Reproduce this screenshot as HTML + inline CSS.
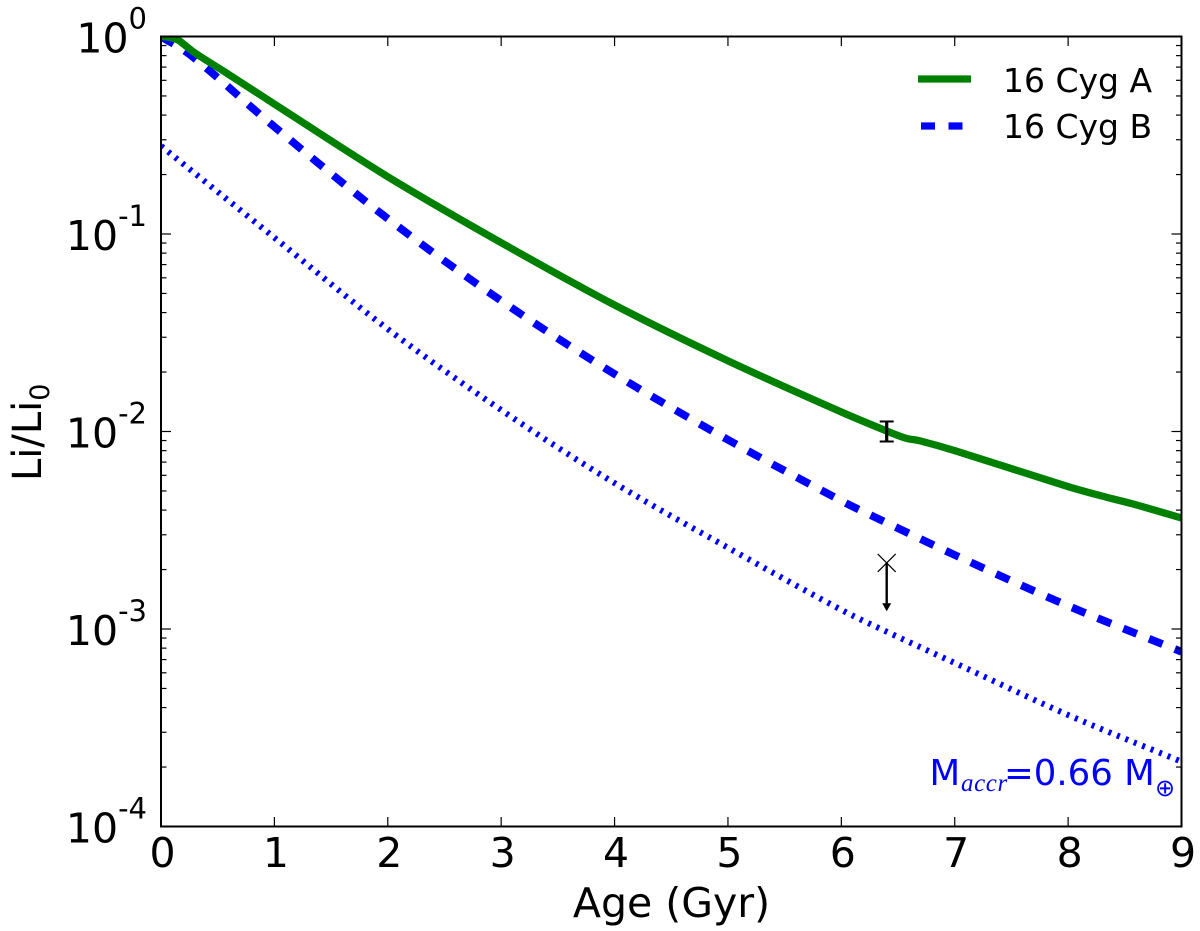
<!DOCTYPE html>
<html>
<head>
<meta charset="utf-8">
<title>Li depletion chart</title>
<style>
html,body{margin:0;padding:0;background:#fff;width:1200px;height:931px;overflow:hidden}
svg{display:block;font-family:"DejaVu Sans","Liberation Sans",sans-serif}
</style>
</head>
<body>
<svg id="chart" xmlns="http://www.w3.org/2000/svg" width="1200" height="931" viewBox="0 0 1200 931">
<rect width="1200" height="931" fill="#fff"/>
<defs><clipPath id="plot-clip"><rect x="161" y="36.5" width="1020.5" height="790"/></clipPath></defs>
<g id="series" clip-path="url(#plot-clip)"></g>
<g id="markers"></g>
<g id="ticks"></g>
<rect x="161" y="36.5" width="1020.5" height="790" fill="none" stroke="#000" stroke-width="2"/>
<g id="tick-labels" fill="#000"></g>
<text x="671.5" y="917" font-size="41" text-anchor="middle">Age (Gyr)</text>
<text transform="translate(41,481) rotate(-90)" font-size="40">Li/Li<tspan font-size="27" dy="8">0</tspan></text>
<g>
<line x1="918" x2="971" y1="79" y2="79" stroke="#008000" stroke-width="7.3"/>
<text x="1003" y="92" font-size="33">16 Cyg A</text>
<line x1="921" x2="963" y1="126" y2="126" stroke="#0000ff" stroke-width="7.3" stroke-dasharray="14 13.5"/>
<text x="1003" y="138" font-size="33">16 Cyg B</text>
</g>
<g fill="#0000ff">
<text x="929.5" y="785" font-size="35.5">M</text>
<text x="961" y="791" font-size="25" font-style="italic" font-family="'Liberation Serif',serif" letter-spacing="0.6">accr</text>
<text x="1004" y="785" font-size="35.5">=0.66 M</text>
<text x="1155" y="796" font-size="24">⊕</text>
</g>
</svg>
<script>
var ages = [0, 0.08, 0.15, 0.22, 0.3, 0.6, 1, 2, 3, 4, 5, 6, 6.4, 6.57, 6.69, 7, 8, 8.33, 8.57, 9];
var liCygA = [1.0, 0.988, 0.96, 0.895, 0.825, 0.641, 0.455, 0.195, 0.0904, 0.0437, 0.0228, 0.01255, 0.01006, 0.00924, 0.00898, 0.0080, 0.00526, 0.00466, 0.0043, 0.00365];
var agesB = [0, 0.26, 1, 2, 3, 4, 5, 6, 6.4, 7, 8, 9];
var liCygB = [1.0, 0.806, 0.349, 0.1195, 0.0459, 0.01954, 0.00908, 0.00446, 0.00345, 0.00237, 0.00131, 0.000767];
var agesAccr = [0, 1, 2, 3, 4, 5, 6, 6.4, 7, 8, 9];
var liAccr = [0.279, 0.0958, 0.033, 0.01285, 0.00548, 0.00258, 0.00125, 0.000969, 0.000673, 0.000367, 0.000213];
var xTickLabels = [0, 1, 2, 3, 4, 5, 6, 7, 8, 9];
var yTickExponents = [0, -1, -2, -3, -4];
var minorMultiples = [2, 3, 4, 5, 6, 7, 8, 9];
var errorAge = [6.4];
var errorLow = [0.0089];
var errorMid = [0.01];
var errorHigh = [0.01124];
var limitAge = [6.4];
var limitValue = [0.00216];
var limitArrowEnd = [0.00123];

var NS = 'http://www.w3.org/2000/svg';
function xScale(v) { return 161 + v * 113.39; }
function yScale(v) { return 36.5 - Math.log10(v) * 197.5; }
function make(tag, attrs, parent) {
  var el = document.createElementNS(NS, tag);
  for (var k in attrs) { el.setAttribute(k, attrs[k]); }
  parent.appendChild(el);
  return el;
}
function curve(xs, ys) {
  var p = xs.map(function (x, i) { return [xScale(x), yScale(ys[i])]; });
  var d = 'M' + p[0][0] + ' ' + p[0][1];
  for (var i = 0; i < p.length - 1; i++) {
    var a = p[Math.max(i - 1, 0)], b = p[i], c = p[i + 1], e = p[Math.min(i + 2, p.length - 1)];
    var h = (c[0] - b[0]) / 3;
    var m1 = (c[1] - a[1]) / (c[0] - a[0]);
    var m2 = (e[1] - b[1]) / (e[0] - b[0]);
    d += 'C' + (b[0] + h) + ' ' + (b[1] + m1 * h) + ' ' + (c[0] - h) + ' ' + (c[1] - m2 * h) + ' ' + c[0] + ' ' + c[1];
  }
  return d;
}

var seriesG = document.getElementById('series');
var lineAccr = make('path', { d: curve(agesAccr, liAccr), fill: 'none', stroke: '#0000ff', 'stroke-width': 6, 'stroke-dasharray': '3 6.1' }, seriesG);


var lineB = make('path', { d: curve(agesB, liCygB), fill: 'none', stroke: '#0000ff', 'stroke-width': 7.8, 'stroke-dasharray': '14.5 13.2' }, seriesG);


var lineA = make('path', { d: curve(ages, liCygA), fill: 'none', stroke: '#008000', 'stroke-width': 7.3 }, seriesG);



var ticksG = document.getElementById('ticks');
var labelsG = document.getElementById('tick-labels');
xTickLabels.forEach(function (v) {
  var x = xScale(v);
  var bottom = make('line', { x1: x, x2: x, y1: 826.5, y2: 817, stroke: '#000', 'stroke-width': 1.2 }, ticksG);
  
  
  var top = make('line', { x1: x, x2: x, y1: 36.5, y2: 46, stroke: '#000', 'stroke-width': 1.2 }, ticksG);
  
  
  var t = make('text', { x: x + 1.5, y: 867, 'font-size': 41, 'text-anchor': 'middle' }, labelsG);
  
  
  t.textContent = v;
});
yTickExponents.forEach(function (e, idx) {
  var v = Math.pow(10, e);
  var y = yScale(v);
  [[161, 171], [1181.5, 1171.5]].forEach(function (s) {
    var major = make('line', { x1: s[0], x2: s[1], y1: y, y2: y, stroke: '#000', 'stroke-width': 1.2 }, ticksG);
    
    
    if (idx > 0) {
      minorMultiples.forEach(function (m) {
        var my = yScale(v * m);
        var minor = make('line', { x1: s[0], x2: s[0] + (s[1] - s[0]) * 0.55, y1: my, y2: my, stroke: '#000', 'stroke-width': 1.2 }, ticksG);
        
        
      });
    }
  });
  var t = make('text', { x: 147, y: y + 16, 'font-size': 41, 'text-anchor': 'end' }, labelsG);
  
  
  t.appendChild(document.createTextNode('10'));
  var sup = make('tspan', { 'font-size': 29, dy: -24 }, t);
  sup.textContent = String(e);
});

var markersG = document.getElementById('markers');
errorAge.forEach(function (a, i) {
  var x = xScale(a), lo = yScale(errorLow[i]), hi = yScale(errorHigh[i]);
  var bar = make('line', { x1: x, x2: x, y1: lo, y2: hi, stroke: '#000', 'stroke-width': 3.2 }, markersG);
  
  
  [lo, hi].forEach(function (y) {
    var cap = make('line', { x1: x - 7, x2: x + 7, y1: y, y2: y, stroke: '#000', 'stroke-width': 2 }, markersG);
    
    
  });
});
limitAge.forEach(function (a, i) {
  var x = xScale(a), y = yScale(limitValue[i]), end = yScale(limitArrowEnd[i]);
  var stem = make('line', { x1: x, x2: x, y1: y, y2: end - 6, stroke: '#000', 'stroke-width': 2.4 }, markersG);
  
  
  var head = make('polygon', { points: (x - 4.5) + ',' + (end - 8) + ' ' + (x + 4.5) + ',' + (end - 8) + ' ' + x + ',' + end, fill: '#000' }, markersG);
  
  
  var cross = make('path', { d: 'M' + (x - 9) + ' ' + (y - 9) + 'L' + (x + 9) + ' ' + (y + 9) + 'M' + (x - 9) + ' ' + (y + 9) + 'L' + (x + 9) + ' ' + (y - 9), stroke: '#000', 'stroke-width': 1.2, fill: 'none' }, markersG);
  
  
});
</script>
</body>
</html>
